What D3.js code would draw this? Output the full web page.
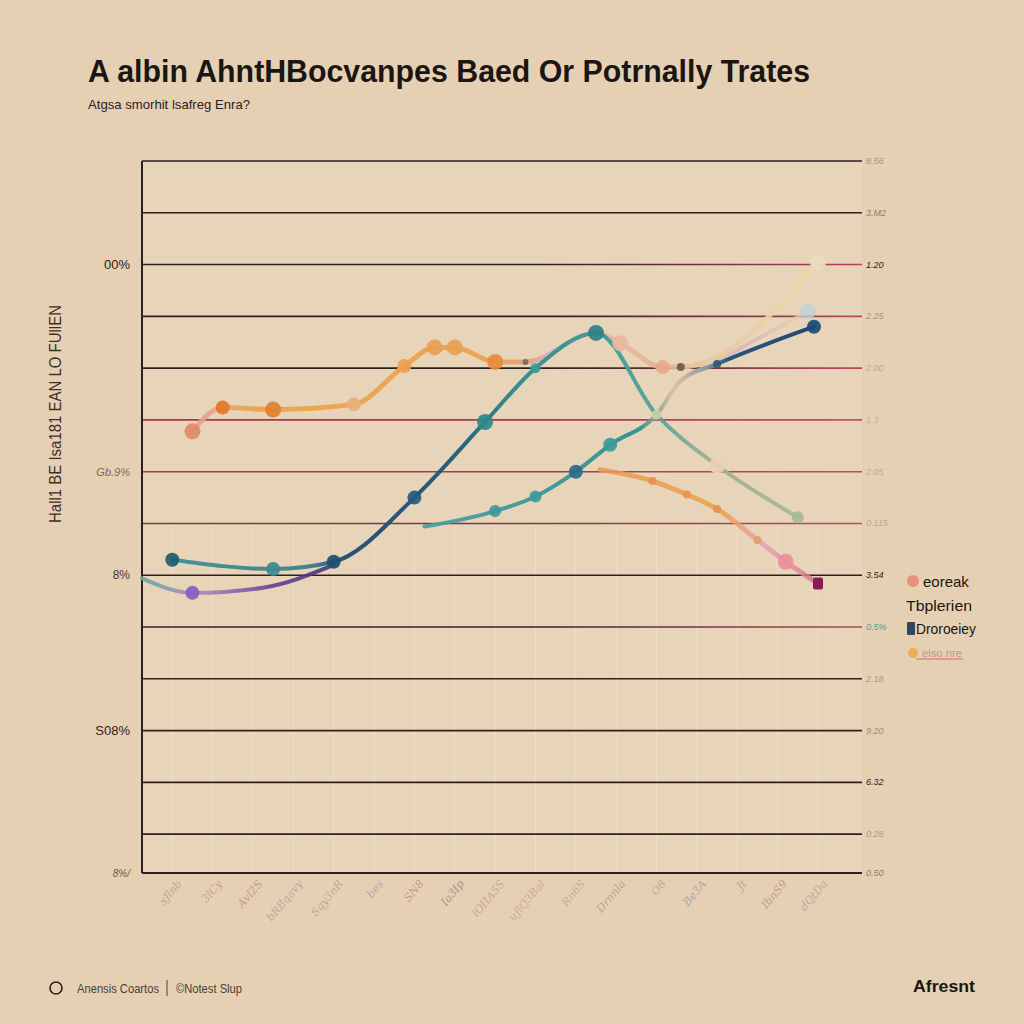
<!DOCTYPE html>
<html><head><meta charset="utf-8">
<script src="https://cdn.jsdelivr.net/npm/d3@7/dist/d3.min.js"></script>
<style>html,body{margin:0;padding:0;background:#e6d0b3;}svg{display:block;}</style>
</head><body>
<svg id="c" width="1024" height="1024"></svg>
<script>
// ---------- data ----------
const titleText = "A albin AhntHBocvanpes Baed Or Potrnally Trates";
const subtitleText = "Atgsa smorhit lsafreg Enra?";
const yAxisTitle = "Hall1 BE Isa181 EAN LO FUllEN";
const xCategories = ["sJlnb","3lCy","Avl2S","bRBqavy","Sqy3nR","bes","SN8","Ia3Ip","lOIIA5S","uJlQ3Bal","Rn6S","Drnnla","O8","Be3A","Jt","IbnS9","dQtDa"];
const yMin = -3.75;
const gridValues = [yMin,0,5,10,15,20,25,30,35,40,45,50,55,60,65];
const leftTickValues = [yMin,10,25,35,55];
const leftTickLabels = ["8%/","S08%","8%","Gb.9%","00%"];
const rightTickLabels = ["0.50","0.28","6.32","9.20","2.18","0.5%","3.54","0.115","2.05","1.3","2.00","2.25","1.20","3.M2","8.56"];
const legendLabels = ["eoreak","Tbplerien","Droroeiey","eiso nre"];
const footerLeft = "Anensis Coartos";
const footerMid = "©Notest Slup";
const footerRight = "Afresnt";

// series: x positions (category index) and values (%)
const tealX = [0,2.5,4,6,7.75,9,10.5,12,13.5,15.5];
const tealY = [26.5,25.6,26.3,32.5,39.8,45.0,48.4,40.5,35.6,30.6];
const orangeX = [0.5,1.25,2.5,4.5,5.75,6.5,7,8,8.75,10.5,11.1,12.15,12.6,16];
const orangeY = [38.9,41.2,41.0,41.5,45.2,47.0,47.0,45.6,45.6,48.4,47.4,45.1,45.1,55.2];
const lowTealX = [6.25,8,9,10,10.85,12,12.6,13.5,15.9];
const lowTealY = [29.7,31.2,32.6,35.0,37.6,40.5,43.8,45.4,49.0];
const lowOrangeX = [10.6,11.9,12.75,13.5,14.5,15.2,16];
const lowOrangeY = [35.2,34.1,32.8,31.4,28.4,26.3,24.2];
const purpleX = [-0.75,0.5,2.25,4];
const purpleY = [24.7,23.3,23.8,26.0];
const lavenderX = [12.6,14,15.75];
const lavenderY = [43.8,46.75,50.5];

// ---------- drawing ----------
const svg = d3.select("#c");
const W=1024,H=1024;
const L=142,R=862,T=161,B=873;
svg.append("rect").attr("width",W).attr("height",H).attr("fill","#e6d0b3");
svg.append("rect").attr("x",L).attr("y",T).attr("width",R-L).attr("height",B-T).attr("fill","#eadac0").attr("opacity",0.5);

const x = d3.scaleLinear().domain([-0.75,16]).range([142,818]);
const y = d3.scaleLinear().domain([yMin,65]).range([B,T]);
const defs = svg.append("defs");

// faint verticals
svg.append("g").selectAll("line").data(xCategories).join("line")
  .attr("x1",(d,i)=>x(i)).attr("x2",(d,i)=>x(i))
  .attr("y1",y(30)).attr("y2",B)
  .attr("stroke","#f4ead8").attr("stroke-width",1).attr("opacity",0.45);

// grid lines
const gridColors = ["#2a201e","#2a201e","#2a201e","#2a201e","#2a201e","#3a1e30","#2a201e","#8e2f45","#a8384f","#a23a52","#2a201e","#2a201e","#2a201e","#2a201e","#2a201e"];
const gridRightColors = ["#2a201e","#2a201e","#2a201e","#2a201e","#2a201e","#b04a5a","#2a201e","#c04a60","#c04a60","#c05068","#c04a60","#c04a60","#c04060","#2a201e","#2a201e"];
gridValues.forEach((v,i)=>{
  const gid="gg"+i;
  const g=defs.append("linearGradient").attr("id",gid).attr("gradientUnits","userSpaceOnUse")
    .attr("x1",L).attr("x2",R+8).attr("y1",0).attr("y2",0);
  g.append("stop").attr("offset","0%").attr("stop-color",gridColors[i]);
  g.append("stop").attr("offset","55%").attr("stop-color",gridColors[i]);
  g.append("stop").attr("offset","100%").attr("stop-color",gridRightColors[i]);
  svg.append("line").attr("x1",L).attr("x2",R).attr("y1",y(v)).attr("y2",y(v))
    .attr("stroke","url(#"+gid+")").attr("stroke-width",i===0?2:1.6);
});
svg.append("line").attr("x1",L).attr("x2",L).attr("y1",T).attr("y2",B).attr("stroke","#2a201e").attr("stroke-width",2);

// right tick labels
const rightColors = ["#8a7a6a","#a89a8a","#2a201e","#9a8a7a","#a89888","#5a9a8a","#2a201e","#b8a898","#b8a898","#c0b0a0","#b8a898","#a89080","#2a201e","#8a7a6a","#a09080"];
svg.append("g").selectAll("text").data(gridValues).join("text")
  .attr("x",R+4).attr("y",d=>y(d)+3)
  .attr("font-family","Liberation Sans, Arial, sans-serif").attr("font-size",9).attr("font-style","italic")
  .attr("fill",(d,i)=>rightColors[i]).text((d,i)=>rightTickLabels[i]);

// left tick labels
const leftSizes=[10,13,12,11,13];
const leftColors=["#6a5a4a","#2a201e","#4a3a30","#7a6a5a","#2a201e"];
svg.append("g").selectAll("text").data(leftTickValues).join("text")
  .attr("x",130).attr("y",d=>y(d)+4).attr("text-anchor","end")
  .attr("font-family","Liberation Sans, Arial, sans-serif")
  .attr("font-size",(d,i)=>leftSizes[i]).attr("fill",(d,i)=>leftColors[i])
  .attr("font-style",(d,i)=>i===0||i===3?"italic":"normal")
  .text((d,i)=>leftTickLabels[i]);

// y axis title
svg.append("text").attr("transform","translate(61,414) rotate(-90)")
  .attr("text-anchor","middle").attr("font-family","Liberation Sans Narrow, Liberation Sans, Arial, sans-serif")
  .attr("font-size",16).attr("fill","#3a302a").attr("textLength",218).attr("lengthAdjust","spacingAndGlyphs")
  .text(yAxisTitle);

// x labels
const xlColors=["#b89a8a","#c09a7a","#c09090","#b8a0a0","#c0a090","#a8a0a8","#c09080","#9a8a8a","#c0a090","#d0a0a0","#b8a8a0","#b89a8a","#c0a090","#a0a0a8","#b8a090","#c09090","#b8a0a0"];
svg.append("g").selectAll("text").data(xCategories).join("text")
  .attr("transform",(d,i)=>`translate(${x(i)+10},${884}) rotate(-50)`)
  .attr("text-anchor","end").attr("font-family","DejaVu Serif, serif").attr("font-style","italic")
  .attr("font-size",11).attr("fill",(d,i)=>xlColors[i]).attr("opacity",0.85)
  .text(d=>d);

// series
const line = d3.line().x(d=>x(d[0])).y(d=>y(d[1])).curve(d3.curveMonotoneX);
function series(xs,ys,stops,width,opacity,id){
  const pts = xs.map((v,i)=>[v,ys[i]]);
  const g=defs.append("linearGradient").attr("id",id).attr("gradientUnits","userSpaceOnUse")
    .attr("x1",x(d3.min(xs))).attr("x2",x(d3.max(xs))).attr("y1",0).attr("y2",0);
  stops.forEach(s=>g.append("stop").attr("offset",s[0]).attr("stop-color",s[1]));
  svg.append("path").datum(pts).attr("d",line).attr("fill","none")
    .attr("stroke","url(#"+id+")").attr("stroke-width",width).attr("stroke-linecap","round")
    .attr("stroke-linejoin","round").attr("opacity",opacity);
  return pts;
}
function dots(pts,idx,colors,r,op){
  idx.forEach((k,j)=>{
    svg.append("circle").attr("cx",x(pts[k][0])).attr("cy",y(pts[k][1])).attr("r",r[j]||r[0])
      .attr("fill",colors[j]).attr("opacity",op||0.92);
  });
}

const pPurple = series(purpleX,purpleY,[["0%","#6aa6a6"],["30%","#a78ac0"],["70%","#6a3a90"],["100%","#3a3a80"]],4,0.9,"sp");
const pLav = series(lavenderX,lavenderY,[["0%","#e8c8a8"],["50%","#d8b0c8"],["100%","#e8d0a0"]],4,0.75,"sl");
const pOrange = series(orangeX,orangeY,[["0%","#e8a0a8"],["10%","#eca048"],["45%","#eca048"],["52%","#e0a070"],["58%","#d8b0c8"],["63%","#e8b8a8"],["75%","#e8b090"],["82%","#e8c8a0"],["100%","#f0d8a8"]],5,0.9,"so");
const pTeal = series(tealX,tealY,[["0%","#3e8e92"],["22%","#3a7f8a"],["28%","#1e4a70"],["45%","#1e5878"],["55%","#2e8a8a"],["68%","#3a9a98"],["78%","#5aa09a"],["85%","#9ab090"],["100%","#a8b898"]],4,0.95,"st");
const pLowTeal = series(lowTealX,lowTealY,[["0%","#4aa0a0"],["55%","#2e9090"],["64%","#e0c0a0"],["72%","#8a9aa0"],["78%","#1e4f7a"],["100%","#1a4070"]],4,0.95,"slt");
const pLowOrange = series(lowOrangeX,lowOrangeY,[["0%","#e89850"],["55%","#eca048"],["75%","#e8a0b0"],["88%","#e090a0"],["100%","#d0708a"]],5,0.85,"slo");

dots(pPurple,[1],["#8a5cc0"],[7]);
dots(pOrange,[0,1,2,3,4,5,6,7,8,10,11,12],["#e08a6a","#e0782a","#e08030","#e8b078","#eaa050","#e8a050","#e8a050","#e88a3a","#7a6a5a","#e8b8a0","#e8a888","#6a5a4a"],[8,7,8,7,7,8,8,8,3,8,7,4]);
dots(pTeal,[0,1,2,3,4,5,6,8,9],["#1d5a70","#3a8a8e","#1d4f70","#245a80","#2a8a8a","#3a9a98","#2e7f8a","#e8d0b0","#a8b898"],[7,7,7,7,8,5,8,8,6]);
dots(pLowTeal,[1,2,3,4,5,7,8],["#3a9a98","#3a9a98","#2a6a88","#3a9a98","#c8d0a8","#2a5a7a","#1a4a78"],[6,6,7,7,5,4,7]);
dots(pLowOrange,[1,2,3,4,5],["#e89050","#e89050","#e89050","#e0a070","#e8909a"],[4,4,4,4,8]);
dots(pLav,[2],["#c0d0d8"],[8],0.8);
svg.append("circle").attr("cx",x(orangeX[orangeX.length-1])).attr("cy",y(orangeY[orangeY.length-1])).attr("r",8).attr("fill","#ecdcc0").attr("opacity",0.9);
svg.append("rect").attr("x",x(lowOrangeX[6])-5).attr("y",y(lowOrangeY[6])-6).attr("width",10).attr("height",12).attr("rx",2).attr("fill","#8a1a5a");

// title
svg.append("text").attr("x",88).attr("y",82).attr("font-family","Liberation Sans, Arial, sans-serif")
  .attr("font-weight","bold").attr("font-size",31).attr("fill","#1a1614")
  .attr("textLength",722).attr("lengthAdjust","spacingAndGlyphs").text(titleText);
svg.append("text").attr("x",88).attr("y",109).attr("font-family","Liberation Sans Narrow, Liberation Sans, Arial, sans-serif")
  .attr("font-size",13).attr("fill","#2a2220")
  .attr("textLength",162).attr("lengthAdjust","spacingAndGlyphs").text(subtitleText);

// legend
const lg = svg.append("g").attr("font-family","Liberation Sans, Arial, sans-serif");
lg.append("circle").attr("cx",913).attr("cy",581).attr("r",6).attr("fill","#e8907a");
lg.append("text").attr("x",923).attr("y",587).attr("font-size",15).attr("fill","#1a1614").text(legendLabels[0]);
lg.append("text").attr("x",906).attr("y",611).attr("font-size",14).attr("fill","#1a1614").attr("textLength",66).attr("lengthAdjust","spacingAndGlyphs").text(legendLabels[1]);
lg.append("rect").attr("x",907).attr("y",622).attr("width",8).attr("height",13).attr("rx",1).attr("fill","#2a4a68");
lg.append("text").attr("x",916).attr("y",634).attr("font-size",14).attr("fill","#1a1614").attr("textLength",60).attr("lengthAdjust","spacingAndGlyphs").text(legendLabels[2]);
lg.append("circle").attr("cx",913).attr("cy",653).attr("r",5).attr("fill","#e8b050");
lg.append("text").attr("x",922).attr("y",657).attr("font-size",10).attr("fill","#b89a88").attr("textLength",40).attr("lengthAdjust","spacingAndGlyphs").text(legendLabels[3]);
lg.append("line").attr("x1",916).attr("x2",963).attr("y1",659).attr("y2",659).attr("stroke","#e06070").attr("stroke-width",1);

// footer
svg.append("circle").attr("cx",56).attr("cy",988).attr("r",6).attr("fill","none").attr("stroke","#2a2220").attr("stroke-width",1.6);
svg.append("text").attr("x",77).attr("y",993).attr("font-family","Liberation Sans Narrow, Liberation Sans, Arial, sans-serif")
  .attr("font-size",13).attr("fill","#4a403a").attr("textLength",82).attr("lengthAdjust","spacingAndGlyphs").text(footerLeft);
svg.append("line").attr("x1",167).attr("x2",167).attr("y1",980).attr("y2",996).attr("stroke","#4a403a").attr("stroke-width",1);
svg.append("text").attr("x",176).attr("y",993).attr("font-family","Liberation Sans Narrow, Liberation Sans, Arial, sans-serif")
  .attr("font-size",13).attr("fill","#4a403a").attr("textLength",66).attr("lengthAdjust","spacingAndGlyphs").text(footerMid);
svg.append("text").attr("x",913).attr("y",992).attr("font-family","Liberation Sans, Arial, sans-serif")
  .attr("font-size",17).attr("font-weight","bold").attr("fill","#1a1614").attr("textLength",62).attr("lengthAdjust","spacingAndGlyphs").text(footerRight);
</script>
</body></html>
